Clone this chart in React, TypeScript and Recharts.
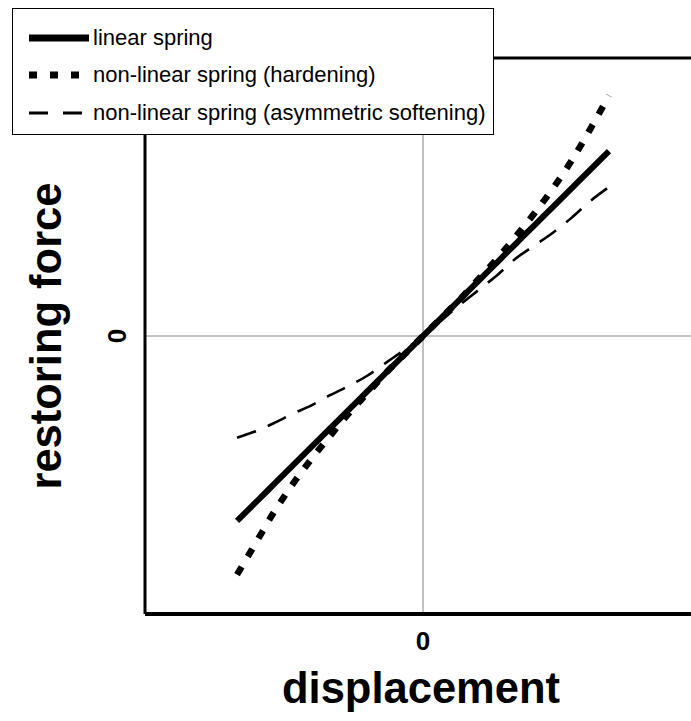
import { Legend, Line, LineChart, ReferenceLine, XAxis, YAxis } from 'recharts'

const displacement = [-1, -0.9, -0.8, -0.7, -0.6, -0.5, -0.4, -0.3, -0.2, -0.1, 0, 0.1, 0.2, 0.3, 0.4, 0.5, 0.6, 0.7, 0.8, 0.9, 1]
const linearSpring = [-1, -0.9, -0.8, -0.7, -0.6, -0.5, -0.4, -0.3, -0.2, -0.1, 0, 0.1, 0.2, 0.3, 0.4, 0.5, 0.6, 0.7, 0.8, 0.9, 1]
const hardeningSpring = [-1.29, -1.12, -0.95, -0.8, -0.665, -0.54, -0.42, -0.31, -0.2, -0.1, 0, 0.1, 0.2, 0.31, 0.42, 0.54, 0.665, 0.8, 0.95, 1.12, 1.3]
const softeningSpring = [-0.55, -0.515, -0.47, -0.42, -0.375, -0.32, -0.27, -0.215, -0.145, -0.075, 0, 0.085, 0.17, 0.25, 0.33, 0.42, 0.49, 0.56, 0.64, 0.73, 0.805]

const xTicks = [0]
const yTicks = [0]
const X_DOMAIN: [number, number] = [-1.495, 1.441]
const Y_DOMAIN: [number, number] = [-1.503, 1.503]

const FONT = '"Liberation Sans", Arial, Helvetica, sans-serif'

const seriesList = [
  { key: 'linear', label: 'linear spring', width: 6, dash: undefined, legendDash: undefined, legendWidth: 7 },
  { key: 'hardening', label: 'non-linear spring (hardening)', width: 6.5, dash: '9 12', legendDash: '8 13', legendWidth: 7 },
  { key: 'softening', label: 'non-linear spring (asymmetric softening)', width: 2.6, dash: '20 13', legendDash: '19 15', legendWidth: 3 },
]

const chartData = displacement.map((x, i) => ({
  x,
  linear: linearSpring[i],
  hardening: hardeningSpring[i],
  softening: softeningSpring[i],
}))

const XTick = ({ x, y, payload }: { x?: number; y?: number; payload?: { value: number } }) => (
  <text x={x} y={(y ?? 0) + 19} textAnchor="middle" dominantBaseline="central" fontFamily={FONT} fontWeight="bold" fontSize={26} fill="#000">
    {payload?.value}
  </text>
)

const YTick = ({ x, y, payload }: { x?: number; y?: number; payload?: { value: number } }) => {
  const cx = (x ?? 0) - 20
  const cy = y ?? 0
  return (
    <text x={cx} y={cy} textAnchor="middle" dominantBaseline="central" transform={`rotate(-90, ${cx}, ${cy})`} fontFamily={FONT} fontWeight="bold" fontSize={26} fill="#000">
      {payload?.value}
    </text>
  )
}

const XTitle = ({ viewBox }: { viewBox?: { x: number; y: number; width: number; height: number } }) => {
  if (!viewBox) return null
  return (
    <text x={viewBox.x + viewBox.width / 2 + 3} y={viewBox.y + 89} textAnchor="middle" fontFamily={FONT} fontWeight="bold" fontSize={43.5} fill="#000">
      displacement
    </text>
  )
}

const YTitle = ({ viewBox }: { viewBox?: { x: number; y: number; width: number; height: number } }) => {
  if (!viewBox) return null
  const cx = viewBox.x + viewBox.width - 84
  const cy = viewBox.y + viewBox.height / 2
  return (
    <text x={cx} y={cy} textAnchor="middle" transform={`rotate(-90, ${cx}, ${cy})`} fontFamily={FONT} fontWeight="bold" fontSize={43.5} fill="#000">
      restoring force
    </text>
  )
}

const SpringLegend = () => (
  <div
    style={{
      background: '#fff',
      border: '1.5px solid #000',
      padding: '10px 0 2px 0',
      width: 482,
      fontFamily: FONT,
      fontSize: 22,
      color: '#000',
      boxSizing: 'border-box',
    }}
  >
    {seriesList.map((s) => (
      <div key={s.key} style={{ display: 'flex', alignItems: 'center', height: 37.5 }}>
        <svg width={80} height={20} style={{ flex: 'none' }}>
          <line x1={16} y1={10} x2={76} y2={10} stroke="#000" strokeWidth={s.legendWidth} strokeDasharray={s.legendDash} />
        </svg>
        <span>{s.label}</span>
      </div>
    ))}
  </div>
)

export default function App() {
  return (
    <div style={{ position: 'absolute', left: 0, top: 0, width: 691, height: 721, background: '#fff' }}>
      <LineChart width={691} height={721} data={chartData} margin={{ top: 58, right: 0, bottom: 67, left: 85 }}>
        <XAxis
          dataKey="x"
          type="number"
          domain={X_DOMAIN}
          ticks={xTicks}
          tick={<XTick />}
          tickLine={false}
          axisLine={{ stroke: '#000', strokeWidth: 4 }}
          height={40}
          allowDataOverflow
          label={<XTitle />}
        />
        <YAxis
          type="number"
          domain={Y_DOMAIN}
          ticks={yTicks}
          tick={<YTick />}
          tickLine={false}
          axisLine={{ stroke: '#000', strokeWidth: 3 }}
          width={60}
          allowDataOverflow
          label={<YTitle />}
        />
        <ReferenceLine x={0} stroke="#888" strokeWidth={1} />
        <ReferenceLine y={0} stroke="#888" strokeWidth={1} />
        <ReferenceLine y={Y_DOMAIN[1]} stroke="#000" strokeWidth={3} />
        {seriesList.map((s) => (
          <Line
            key={s.key}
            type="monotone"
            dataKey={s.key}
            name={s.label}
            stroke="#000"
            strokeWidth={s.width}
            strokeDasharray={s.dash}
            strokeLinecap="butt"
            dot={false}
            activeDot={false}
            isAnimationActive={false}
          />
        ))}
        <Legend
          layout="vertical"
          align="center"
          verticalAlign="middle"
          content={<SpringLegend />}
          wrapperStyle={{ left: 12, top: 8, width: 482 }}
        />
      </LineChart>
    </div>
  )
}
